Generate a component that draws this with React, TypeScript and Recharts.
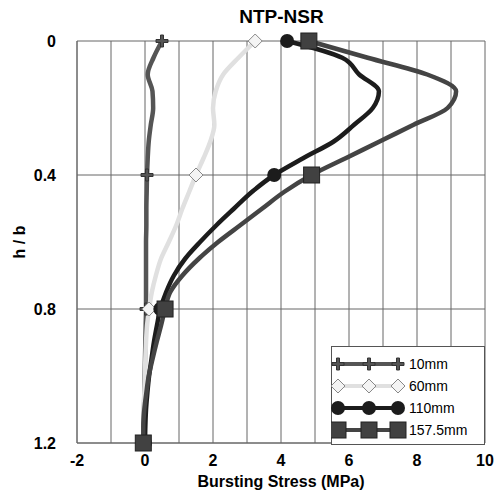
import React from "react";
import {
  LineChart, Line, XAxis, YAxis, CartesianGrid, Label,
} from "recharts";

// h/b positions along the depth (0 = loaded face)
const hb = [0, 0.05, 0.1, 0.15, 0.2, 0.25, 0.3, 0.35, 0.4, 0.45, 0.5, 0.55, 0.6,
  0.65, 0.7, 0.75, 0.8, 0.85, 0.9, 0.95, 1.0, 1.05, 1.1, 1.15, 1.2];

const s10 = [0.5, 0.25, 0.08, 0.22, 0.24, 0.17, 0.11, 0.08, 0.06, 0.05, 0.04, 0.04, 0.03,
  0.03, 0.03, 0.03, 0.03, 0.02, 0.01, 0, -0.01, -0.02, -0.03, -0.04, -0.05];
const s60 = [3.24, 2.75, 2.3, 2.08, 2.0, 2.04, 1.92, 1.72, 1.5, 1.3, 1.1, 0.92, 0.7,
  0.47, 0.32, 0.2, 0.12, 0.06, 0.03, 0.01, 0, -0.02, -0.03, -0.04, -0.05];
const s110 = [4.18, 5.8, 6.3, 6.88, 6.7, 6.15, 5.55, 4.65, 3.8, 3.15, 2.62, 2.1, 1.62,
  1.18, 0.85, 0.62, 0.45, 0.35, 0.26, 0.19, 0.12, 0.07, 0.03, 0.01, 0];
const s157 = [4.82, 6.55, 8.3, 9.15, 8.9, 7.9, 6.9, 5.9, 4.9, 4.1, 3.45, 2.8, 2.15,
  1.58, 1.1, 0.74, 0.59, 0.47, 0.34, 0.22, 0.11, 0.04, -0.02, -0.05, -0.05];

const xTicks = [-2, -1, 0, 1, 2, 3, 4, 5, 6, 7, 8, 9, 10];
const yTicks = [0, 0.4, 0.8, 1.2];

const data = hb.map((h, i) => ({ h, s10: s10[i], s60: s60[i], s110: s110[i], s157: s157[i] }));

const FONT = "'Liberation Sans', Arial, sans-serif";

type Kind = "plus" | "diamond" | "circle" | "square";

const Marker = ({ kind, cx, cy }: { kind: Kind; cx: number; cy: number }) => {
  if (kind === "plus")
    return (
      <path
        d={`M${cx - 6},${cy - 1.5}h4.5v-4.5h3v4.5h4.5v3h-4.5v4.5h-3v-4.5h-4.5z`}
        fill="#555" stroke="#333" strokeWidth={1}
      />
    );
  if (kind === "diamond")
    return (
      <path d={`M${cx},${cy - 7}L${cx + 7},${cy}L${cx},${cy + 7}L${cx - 7},${cy}z`}
        fill="#f4f4f4" stroke="#888" strokeWidth={1} />
    );
  if (kind === "circle") return <circle cx={cx} cy={cy} r={7} fill="#1c1c1c" />;
  return <rect x={cx - 8} y={cy - 8} width={16} height={16} fill="#414141" stroke="#222" strokeWidth={1} />;
};

const dotFor = (kind: Kind) => (props: any) => {
  const { cx, cy, index } = props;
  if (index % 8 !== 0 || cx == null || cy == null) return <g key={`d${kind}${index}`} />;
  return <g key={`d${kind}${index}`}><Marker kind={kind} cx={cx} cy={cy} /></g>;
};

const legendRows: { name: string; kind: Kind; color: string }[] = [
  { name: "10mm", kind: "plus", color: "#555" },
  { name: "60mm", kind: "diamond", color: "#e0e0e0" },
  { name: "110mm", kind: "circle", color: "#1c1c1c" },
  { name: "157.5mm", kind: "square", color: "#444" },
];

const LegendBox = () => (
  <svg width={154} height={99} style={{ display: "block" }}>
    <rect x={0.5} y={0.5} width={153} height={98} fill="#fff" stroke="#555" />
    {legendRows.map((r, i) => {
      const y = 18 + i * 22;
      return (
        <g key={r.name}>
          <line x1={5} x2={68} y1={y} y2={y} stroke={r.color} strokeWidth={4} />
          <Marker kind={r.kind} cx={7} cy={y} />
          <Marker kind={r.kind} cx={38} cy={y} />
          <Marker kind={r.kind} cx={67} cy={y} />
          <text x={78} y={y + 5} fontSize={14} fontFamily={FONT} fill="#000">{r.name}</text>
        </g>
      );
    })}
  </svg>
);

export default function App() {
  return (
    <div style={{ position: "absolute", left: 0, top: 0, width: 500, height: 491, background: "#fff" }}>
      <style>{`body{margin:0}`}</style>
      <div style={{ position: "absolute", left: 0, top: 6, width: 563, textAlign: "center",
        fontFamily: FONT, fontWeight: "bold", fontSize: 19 }}>
        NTP-NSR
      </div>
      <LineChart
        width={500}
        height={491}
        data={data}
        layout="vertical"
        margin={{ top: 41, right: 15, left: 0, bottom: 0 }}
      >
        <CartesianGrid stroke="#666" strokeWidth={1} />
        <XAxis
          type="number"
          domain={[-2, 10]}
          ticks={xTicks}
          interval={0}
          tickFormatter={(v: number) => (v % 2 === 0 ? String(v) : "")}
          axisLine={{ stroke: "#666" }}
          tickLine={false}
          tickSize={0}
          tickMargin={12}
          height={48}
          tick={{ fill: "#000", fontSize: 16, fontWeight: "bold", fontFamily: FONT }}
        >
          <Label value="Bursting Stress (MPa)" position="insideBottom" offset={4}
            style={{ fill: "#000", fontSize: 16, fontWeight: "bold", fontFamily: FONT }} />
        </XAxis>
        <YAxis
          type="number"
          dataKey="h"
          domain={[0, 1.2]}
          ticks={yTicks}
          interval={0}
          axisLine={{ stroke: "#666" }}
          tickLine={false}
          tickSize={0}
          tickMargin={21}
          width={77}
          tick={{ fill: "#000", fontSize: 16, fontWeight: "bold", fontFamily: FONT }}
        >
          <Label value="h / b" angle={-90} position="insideLeft" offset={19}
            style={{ fill: "#000", fontSize: 16, fontWeight: "bold", fontFamily: FONT, textAnchor: "middle" }} />
        </YAxis>
        <Line type="monotone" dataKey="s10" name="10mm" stroke="#555" strokeWidth={4.5}
          dot={dotFor("plus")} activeDot={false} isAnimationActive={false} />
        <Line type="monotone" dataKey="s60" name="60mm" stroke="#e0e0e0" strokeWidth={4.5}
          dot={dotFor("diamond")} activeDot={false} isAnimationActive={false} />
        <Line type="monotone" dataKey="s110" name="110mm" stroke="#1c1c1c" strokeWidth={4.5}
          dot={dotFor("circle")} activeDot={false} isAnimationActive={false} />
        <Line type="monotone" dataKey="s157" name="157.5mm" stroke="#444" strokeWidth={4.5}
          dot={dotFor("square")} activeDot={false} isAnimationActive={false} />
      </LineChart>
      <div style={{ position: "absolute", left: 331, top: 346 }}>
        <LegendBox />
      </div>
    </div>
  );
}
